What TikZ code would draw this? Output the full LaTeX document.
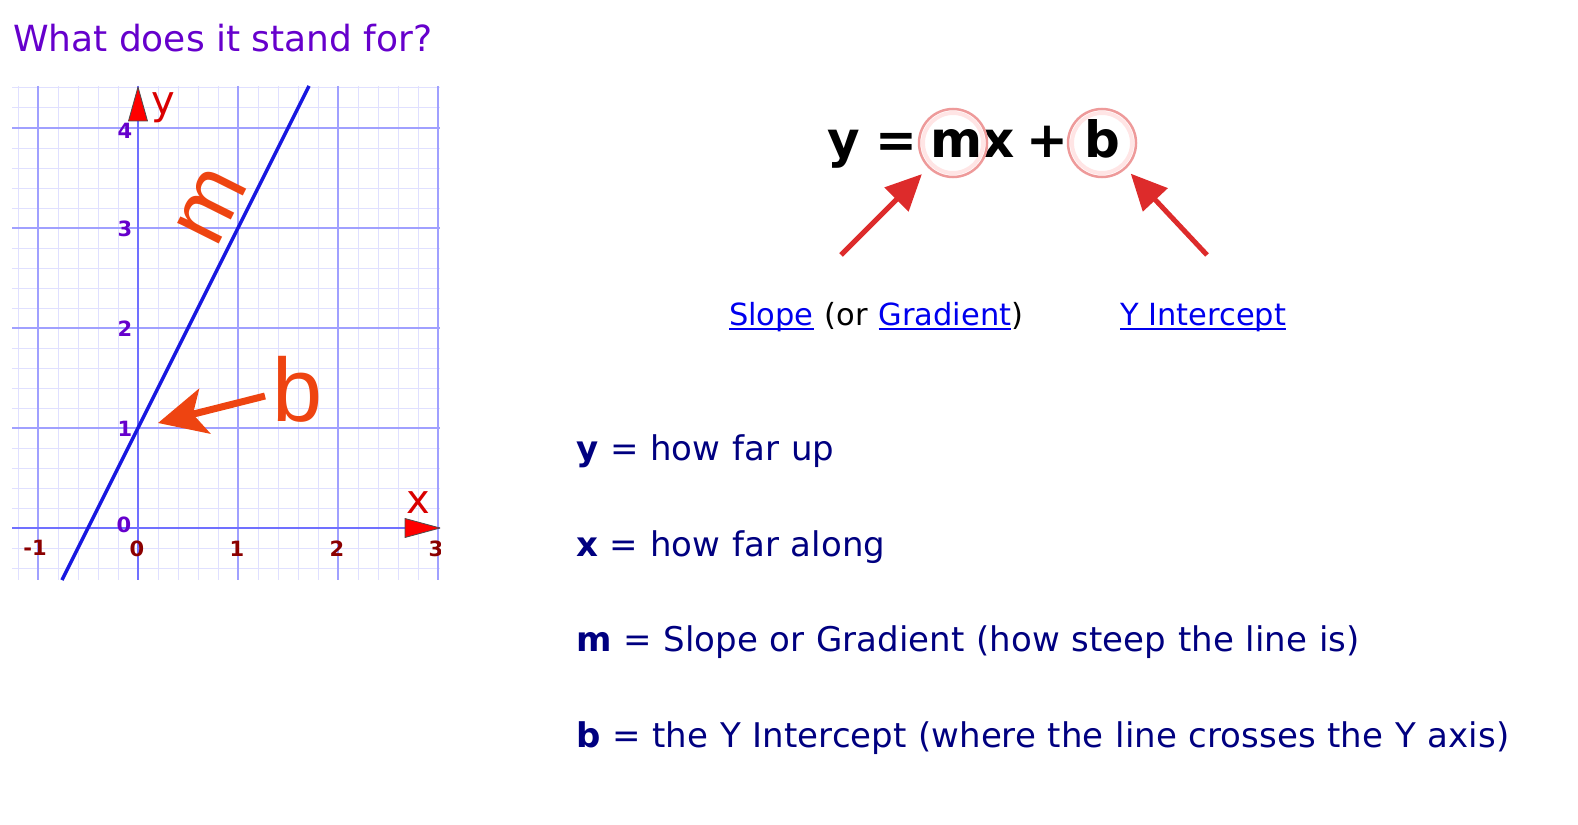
\documentclass[tikz,border=0pt]{standalone}
\usepackage{fontspec}
\setmainfont{DejaVu Sans}
\newfontfamily\arialf{Liberation Sans}
\newfontfamily\bodyfont{DejaVu Sans}[WordSpace=1.1]
\usetikzlibrary{arrows.meta}
\definecolor{titlepurple}{HTML}{6600CC}
\definecolor{navytext}{HTML}{000080}
\definecolor{linkblue}{HTML}{0000EE}
\definecolor{orangered}{HTML}{EE4411}
\definecolor{eqred}{HTML}{DD2B2B}
\definecolor{gridmajor}{HTML}{A0A0FF}
\definecolor{gridminor}{HTML}{E0E0FF}
\definecolor{axisblue}{HTML}{7070FF}
\definecolor{lineblue}{HTML}{1818E0}
\definecolor{ticky}{HTML}{6600CC}
\definecolor{tickx}{HTML}{8B0000}
\definecolor{ringpink}{HTML}{EE9A9A}
\begin{document}
\begin{tikzpicture}[x=1pt,y=-1pt,
  every node/.style={inner sep=0pt, outer sep=0pt},
  minor/.style={gridminor, line width=1pt},
  major/.style={gridmajor, line width=1.5pt},
  axisline/.style={axisblue, line width=2pt},
  ytick/.style={text=ticky, font=\bfseries\fontsize{21}{21}\selectfont},
  xtick/.style={text=tickx, font=\bfseries\fontsize{21}{21}\selectfont},
  axishead/.style={fill=red, draw=black!70, line width=0.8pt, line join=round},
  body/.style={anchor=base west, text=navytext, font=\bodyfont\fontsize{34}{40}\selectfont},
  linktext/.style={anchor=base west, text=linkblue, font=\fontsize{30.5}{36}\selectfont},
  eqtext/.style={anchor=base, font=\bfseries\fontsize{50}{50}\selectfont},
  ring/.style={circle, minimum size=68pt, draw=ringpink, line width=2.5pt},
  ringglow/.style={circle, minimum size=60pt, draw=red!10, line width=4pt},
  eqarrow/.style={eqred, line width=5pt, -{Triangle[length=36pt,width=33pt]}},
  orarrow/.style={orangered, line width=7pt, -{Stealth[length=48pt,width=46pt,inset=12pt]}}
]
\useasboundingbox (0,0) rectangle (1578,824);

% title
\node[anchor=base west, text=titlepurple, font=\fontsize{36}{40}\selectfont] (title) at (13,52) {What does it stand for?};

% graph
\begin{scope}
\clip (12,86) rectangle (440,580);
\foreach \x in {18,58,78,98,118,158,178,198,218,258,278,298,318,358,378,398,418}
  \draw[minor] (\x,86) -- (\x,580);
\foreach \y in {88,108,148,168,188,208,248,268,288,308,348,368,388,408,448,468,488,508,548,568}
  \draw[minor] (12,\y) -- (440,\y);
\foreach \x in {38,138,238,338,438}
  \draw[major] (\x,86) -- (\x,580);
\foreach \y in {128,228,328,428,528}
  \draw[major] (12,\y) -- (440,\y);
\draw[axisline] (138,86) -- (138,580);
\draw[axisline] (12,528) -- (440,528);
\node[ytick] (y4) at (125,131) {4};
\node[ytick] (y3) at (125,229) {3};
\node[ytick] (y2) at (125,329) {2};
\node[ytick] (y1) at (125,429) {1};
\node[ytick] (y0) at (124,525) {0};
\node[xtick] (xm1) at (35,548) {-1};
\node[xtick] (x0) at (137,549) {0};
\node[xtick] (x1) at (237,549) {1};
\node[xtick] (x2) at (337,549) {2};
\node[xtick] (x3) at (436,549) {3};
\draw[lineblue, line width=3.5pt] (62,580) -- (309,86);
\end{scope}
\draw[axishead] (138,87) -- (128.5,121) -- (147.5,121) -- cycle;
\draw[axishead] (440,528) -- (405,518.5) -- (405,537.5) -- cycle;
\node[text=red!85!black, font=\fontsize{40}{40}\selectfont] (ylab) at (163,108) {y};
\node[text=red!85!black, font=\fontsize{40}{40}\selectfont] (xlab) at (418,503) {x};

\node[rotate=63.4, text=orangered, font=\arialf\fontsize{88}{88}\selectfont] (mlab) at (212,206) {m};
\node[anchor=base, text=orangered, font=\arialf\fontsize{90}{90}\selectfont] (blab) at (298,421) {b};
\coordinate (btail) at (265,396);
\coordinate (bhit) at (158,423);
\draw[orarrow] (btail) -- (bhit);

% equation
\node[ringglow] (glowm) at (953,143) {};
\node[ringglow] (glowb) at (1102,143) {};
\node[eqtext] (eqy) at (844,157) {y};
\node[eqtext] (eqeq) at (896,157) {=};
\node[eqtext] (eqmx) at (973,157) {mx};
\node[eqtext] (eqplus) at (1047,157) {+};
\node[eqtext] (eqb) at (1102,157) {b};
\node[ring] (ringm) at (953,143) {};
\node[ring] (ringb) at (1102,143) {};
\coordinate (tailm) at (841,255);
\coordinate (tailb) at (1207,255);
\draw[eqarrow, shorten >=10pt] (tailm) -- (ringm);
\draw[eqarrow, shorten >=8pt] (tailb) -- (ringb);

% links
\node[linktext] (slope) at (729,325) {Slope};
\node[anchor=base west, font=\fontsize{30.5}{36}\selectfont] (orword) at ([xshift=11pt]slope.base east) {(or};
\node[linktext] (grad) at ([xshift=11pt]orword.base east) {Gradient};
\node[anchor=base west, font=\fontsize{30.5}{36}\selectfont] (closep) at (grad.base east) {)};
\node[linktext] (yint) at (1120,325) {Y Intercept};
\draw[linkblue, line width=1.6pt] ([yshift=-4pt]slope.base west) -- ([yshift=-4pt]slope.base east);
\draw[linkblue, line width=1.6pt] ([yshift=-4pt]grad.base west) -- ([yshift=-4pt]grad.base east);
\draw[linkblue, line width=1.6pt] ([yshift=-4pt]yint.base west) -- ([yshift=-4pt]yint.base east);

% definitions
\node[body] (defy) at (576,460) {\textbf{y} = how far up};
\node[body] (defx) at (576,556) {\textbf{x} = how far along};
\node[body] (defm) at (576,651) {\textbf{m} = Slope or Gradient (how steep the line is)};
\node[body] (defb) at (576,747) {\textbf{b} = the Y Intercept (where the line crosses the Y axis)};
\end{tikzpicture}
\end{document}
